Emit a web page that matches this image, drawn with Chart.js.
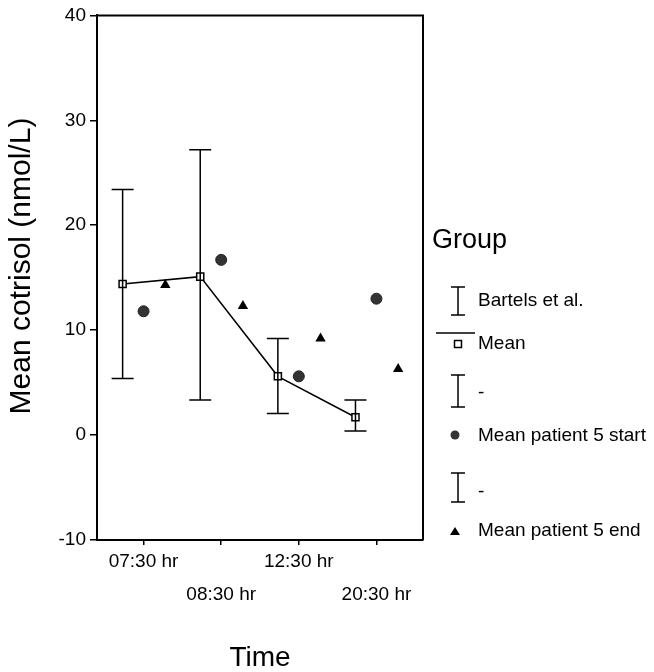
<!DOCTYPE html>
<html>
<head>
<meta charset="utf-8">
<script src="https://cdn.jsdelivr.net/npm/chart.js@4.4.1/dist/chart.umd.min.js"></script>
<style>
    body { margin: 0; background: #fff; }
    canvas { display: block; }
</style>
</head>
<body>
<canvas id="cortisolChart" width="654" height="672"></canvas>
<script>
// values
var timeLabels = ["07:30 hr", "08:30 hr", "12:30 hr", "20:30 hr"];
var bartelsMean = [14.4, 15.1, 5.6, 1.7];
var bartelsHigh = [23.4, 27.2, 9.2, 3.35];
var bartelsLow = [5.4, 3.35, 2.05, 0.4];
var patientStart = [11.8, 16.7, 5.6, 13.0];
var patientEnd = [14.3, 12.3, 9.2, 6.3];
var yTicks = [-10, 0, 10, 20, 30, 40];

var FONT = "'Liberation Sans', Arial, sans-serif";
var SHIFT_LEFT = -0.27, SHIFT_RIGHT = 0.28;

function pts(values, shift) {
    return values.map(function (v, i) {
        return { x: i + 1 + shift, y: v };
    });
}

var errorBars = {
    id: "errorBars",
    afterDatasetsDraw: function (chart) {
        var ctx = chart.ctx, xs = chart.scales.x, ys = chart.scales.y;
        ctx.save();
        ctx.strokeStyle = "#000";
        ctx.lineWidth = 1.5;
        bartelsMean.forEach(function (m, i) {
            var x = xs.getPixelForValue(i + 1 + SHIFT_LEFT),
                yh = ys.getPixelForValue(bartelsHigh[i]),
                yl = ys.getPixelForValue(bartelsLow[i]);
            ctx.beginPath();
            ctx.moveTo(x, yh); ctx.lineTo(x, yl);
            ctx.moveTo(x - 11, yh); ctx.lineTo(x + 11, yh);
            ctx.moveTo(x - 11, yl); ctx.lineTo(x + 11, yl);
            ctx.stroke();
        });
        ctx.restore();
    },
};

function iBeam(ctx, x, y1, y2) {
    ctx.beginPath();
    ctx.moveTo(x, y1); ctx.lineTo(x, y2);
    ctx.moveTo(x - 7, y1); ctx.lineTo(x + 7, y1);
    ctx.moveTo(x - 7, y2); ctx.lineTo(x + 7, y2);
    ctx.stroke();
}

var frameAndLegend = {
    id: "frameAndLegend",
    afterDraw: function (chart) {
        var ctx = chart.ctx, a = chart.chartArea;
        ctx.save();
        // top and right edges of the box
        ctx.strokeStyle = "#000";
        ctx.lineWidth = 2;
        ctx.beginPath();
        ctx.moveTo(a.left, a.top); ctx.lineTo(a.right, a.top); ctx.lineTo(a.right, a.bottom);
        ctx.stroke();

        // y axis title, sits a bit above the plot centre in the original
        ctx.fillStyle = "#000";
        ctx.save();
        ctx.translate(22, 266);
        ctx.rotate(-Math.PI / 2);
        ctx.textAlign = "center";
        ctx.textBaseline = "middle";
        ctx.font = "30px " + FONT;
        ctx.fillText("Mean cotrisol (nmol/L)", 0, 0);
        ctx.restore();

        // legend
        ctx.textBaseline = "middle";
        ctx.textAlign = "left";
        ctx.font = "27px " + FONT;
        ctx.fillText("Group", 432, 241);

        ctx.font = "19px " + FONT;
        ctx.lineWidth = 1.5;
        iBeam(ctx, 458, 287, 315);
        ctx.fillText("Bartels et al.", 478, 301);

        ctx.beginPath();
        ctx.moveTo(436, 333); ctx.lineTo(475, 333);
        ctx.stroke();
        ctx.fillStyle = "#fff";
        ctx.fillRect(454.5, 340.5, 7, 7);
        ctx.strokeRect(454.5, 340.5, 7, 7);
        ctx.fillStyle = "#000";
        ctx.fillText("Mean", 478, 344);

        iBeam(ctx, 458, 375, 407);
        ctx.fillText("-", 478, 393);

        ctx.fillStyle = "#333";
        ctx.beginPath();
        ctx.arc(455, 435, 4.5, 0, Math.PI * 2);
        ctx.fill();
        ctx.fillStyle = "#000";
        ctx.fillText("Mean patient 5 start", 478, 436);

        iBeam(ctx, 458, 473, 502);
        ctx.fillText("-", 478, 492);

        ctx.beginPath();
        ctx.moveTo(455, 527); ctx.lineTo(460, 535); ctx.lineTo(450, 535);
        ctx.closePath();
        ctx.fill();
        ctx.fillText("Mean patient 5 end", 478, 531);
        ctx.restore();
    },
};

var ctx1 = document.getElementById("cortisolChart").getContext("2d"),
    myChart = new Chart(ctx1, {
        type: "scatter",
        data: {
            datasets: [
                {
                    label: "Mean",
                    data: pts(bartelsMean, SHIFT_LEFT),
                    showLine: true,
                    borderColor: "#000",
                    borderWidth: 1.5,
                    pointStyle: "rect",
                    pointRadius: 5,
                    pointBackgroundColor: "#fff",
                    pointBorderColor: "#000",
                    pointBorderWidth: 1.5,
                },
                {
                    label: "Mean patient 5 start",
                    data: pts(patientStart, 0),
                    pointStyle: "circle",
                    pointRadius: 5.5,
                    pointBackgroundColor: "#333",
                    pointBorderColor: "#222",
                    pointBorderWidth: 1,
                },
                {
                    label: "Mean patient 5 end",
                    data: pts(patientEnd, SHIFT_RIGHT),
                    pointStyle: "triangle",
                    pointRadius: 6,
                    pointBackgroundColor: "#000",
                    pointBorderColor: "#000",
                    pointBorderWidth: 0,
                },
            ],
        },
        options: {
            responsive: false,
            animation: false,
            layout: { padding: { top: 14, right: 231, bottom: 0, left: 0 } },
            plugins: { legend: { display: false }, tooltip: { enabled: false } },
            scales: {
                x: {
                    type: "linear",
                    min: 0.4,
                    max: 4.6,
                    afterBuildTicks: function (s) {
                        s.ticks = timeLabels.map(function (l, i) {
                            return { value: i + 1 };
                        });
                    },
                    afterFit: function (s) { s.height = 132; },
                    ticks: {
                        color: "#000",
                        font: { family: FONT, size: 19, lineHeight: 1.74 },
                        padding: 0,
                        maxRotation: 0,
                        autoSkip: false,
                        callback: function (v) {
                            var l = timeLabels[v - 1];
                            return (v - 1) % 2 === 0 ? [l] : ["", l];
                        },
                    },
                    grid: { drawOnChartArea: false, tickLength: 5, color: "#000", lineWidth: 1.5 },
                    border: { color: "#000", width: 2 },
                    title: {
                        display: true,
                        text: "Time",
                        color: "#000",
                        font: { family: FONT, size: 28, lineHeight: 1 },
                        padding: { top: 0, bottom: 0 },
                    },
                },
                y: {
                    min: -10,
                    max: 40,
                    afterBuildTicks: function (s) {
                        s.ticks = yTicks.map(function (v) { return { value: v }; });
                    },
                    afterFit: function (s) { s.width = 97; },
                    ticks: {
                        color: "#000",
                        font: { family: FONT, size: 19 },
                        padding: 4,
                    },
                    grid: { drawOnChartArea: false, tickLength: 7, color: "#000", lineWidth: 1.5 },
                    border: { color: "#000", width: 2 },
                },
            },
        },
        plugins: [errorBars, frameAndLegend],
    });
</script>
</body>
</html>
